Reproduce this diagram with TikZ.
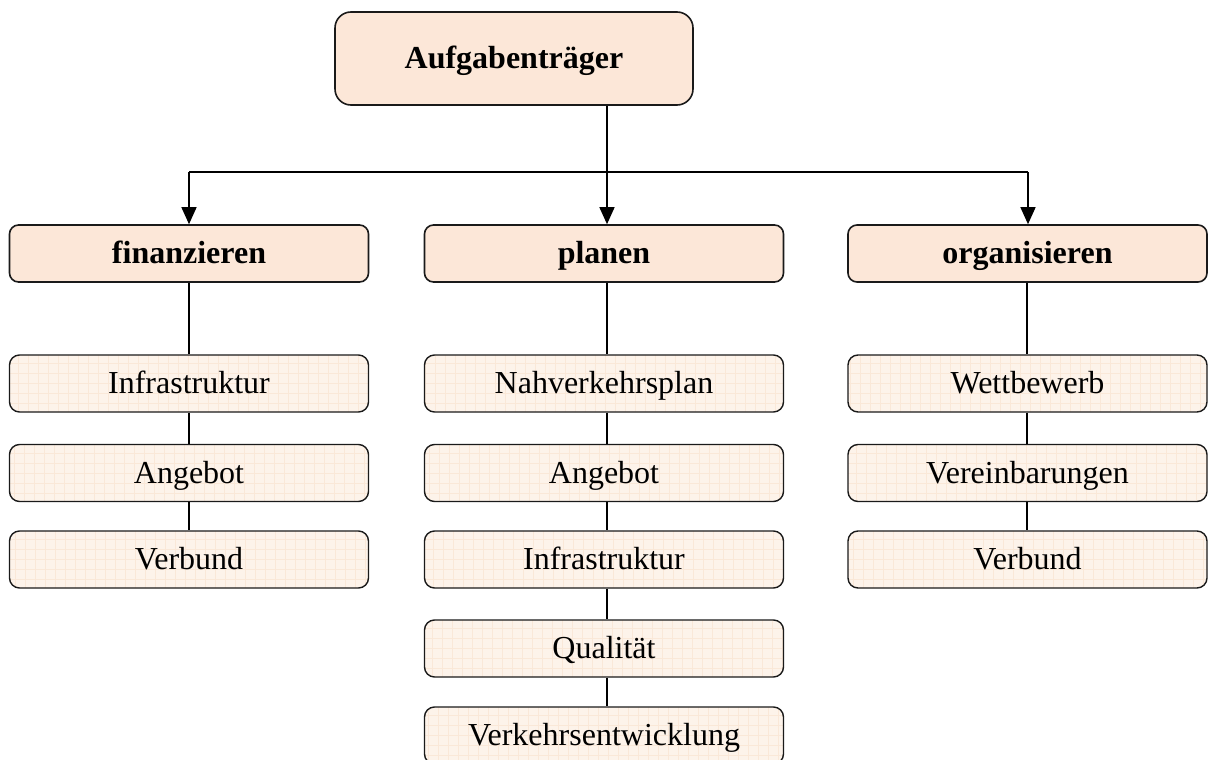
\documentclass[tikz,border=0pt]{standalone}
\usepackage{fontspec}
\setmainfont{Liberation Serif}
\usetikzlibrary{arrows.meta}
\definecolor{headfill}{HTML}{FCE7D8}
\definecolor{itemfill}{HTML}{FDF3EA}
\definecolor{itemgrid}{HTML}{FAE8D8}
\definecolor{edge}{HTML}{1A1A1A}
\tikzset{
  boxtext/.style={text height=25pt, text depth=5pt, font=\fontsize{32}{38}\selectfont},
  headbox/.style={draw=edge, line width=1.6pt, fill=headfill, rounded corners=16pt,
    minimum width=358pt, minimum height=93pt, inner sep=0pt,
    boxtext, font=\fontsize{32}{38}\selectfont\bfseries},
  groupbox/.style={draw=edge, line width=1.6pt, fill=headfill, rounded corners=9pt,
    minimum width=359pt, minimum height=57pt, inner sep=0pt,
    boxtext, font=\fontsize{32}{38}\selectfont\bfseries},
  itembox/.style={draw=edge, line width=1.4pt, fill=itemfill, rounded corners=10pt,
    minimum width=359pt, minimum height=57pt, inner sep=0pt, boxtext,
    path picture={\draw[itemgrid, line width=0.4pt]
      (path picture bounding box.south west) grid[step=10pt]
      (path picture bounding box.north east);}},
  link/.style={draw=black, line width=1.4pt},
  arrowlink/.style={link, -{Triangle[length=17pt,width=15pt]}}
}
\begin{document}
\begin{tikzpicture}[x=1pt,y=-1pt]
\useasboundingbox (0,0) rectangle (1213,760);

% top level
\node[headbox] (top) at (514,58.5) {Aufgabenträger};

% three task groups
\node[groupbox] (fin) at (189,253.5) {finanzieren};
\node[groupbox] (plan) at (604,253.5) {planen};
\node[groupbox] (org) at (1027.5,253.5) {organisieren};

% items: finanzieren
\node[itembox] (f1) at (189,383.5) {Infrastruktur};
\node[itembox] (f2) at (189,473) {Angebot};
\node[itembox] (f3) at (189,559.5) {Verbund};

% items: planen
\node[itembox] (p1) at (604,383.5) {Nahverkehrsplan};
\node[itembox] (p2) at (604,473) {Angebot};
\node[itembox] (p3) at (604,559.5) {Infrastruktur};
\node[itembox] (p4) at (604,648.5) {Qualität};
\node[itembox] (p5) at (604,735.5) {Verkehrsentwicklung};

% items: organisieren
\node[itembox] (o1) at (1027.5,383.5) {Wettbewerb};
\node[itembox] (o2) at (1027.5,473) {Vereinbarungen};
\node[itembox] (o3) at (1027.5,559.5) {Verbund};

% distribution bar
\coordinate (jl) at (189,172);
\coordinate (jm) at (607,172);
\coordinate (jr) at (1028,172);
\draw[link] (jl) -- (jr);
\draw[link] (top.south -| jm) -- (jm);
\draw[arrowlink] (jl) -- (fin.north -| jl);
\draw[arrowlink] (jm) -- (plan.north -| jm);
\draw[arrowlink] (jr) -- (org.north -| jr);

% vertical chains
\coordinate (cl) at (189,0);
\coordinate (cm) at (607,0);
\coordinate (cr) at (1027,0);
\draw[link] (fin.south -| cl) -- (f1.north -| cl);
\draw[link] (f1.south -| cl) -- (f2.north -| cl);
\draw[link] (f2.south -| cl) -- (f3.north -| cl);

\draw[link] (plan.south -| cm) -- (p1.north -| cm);
\draw[link] (p1.south -| cm) -- (p2.north -| cm);
\draw[link] (p2.south -| cm) -- (p3.north -| cm);
\draw[link] (p3.south -| cm) -- (p4.north -| cm);
\draw[link] (p4.south -| cm) -- (p5.north -| cm);

\draw[link] (org.south -| cr) -- (o1.north -| cr);
\draw[link] (o1.south -| cr) -- (o2.north -| cr);
\draw[link] (o2.south -| cr) -- (o3.north -| cr);
\end{tikzpicture}
\end{document}
